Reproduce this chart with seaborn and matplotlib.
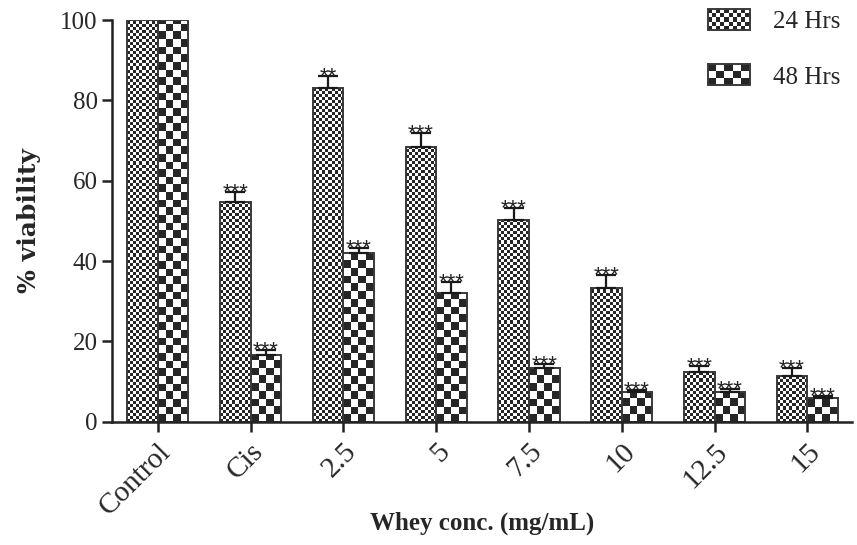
import numpy as np
import pandas as pd
import matplotlib
matplotlib.use("Agg")
import matplotlib.pyplot as plt
import seaborn as sns
from matplotlib.patches import Rectangle
from matplotlib.legend_handler import HandlerBase

# --- data ---
groups = ["Control", "Cis", "2.5", "5", "7.5", "10", "12.5", "15"]
via_24 = [100, 54.8, 83.0, 68.3, 50.3, 33.4, 12.5, 11.3]
err_24 = [0, 2.5, 3.1, 3.5, 3.0, 3.1, 1.5, 2.1]
via_48 = [100, 16.7, 42.1, 32.0, 13.5, 7.5, 7.5, 5.9]
err_48 = [0, 1.2, 1.3, 2.8, 0.8, 0.4, 0.6, 0.6]
sig_24 = ["", "***", "**", "***", "***", "***", "***", "***"]
sig_48 = ["", "***", "***", "***", "***", "***", "***", "***"]
series = ["24 Hrs", "48 Hrs"]

df = pd.DataFrame({
    "group": groups * 2,
    "viability": via_24 + via_48,
    "time": [series[0]] * len(groups) + [series[1]] * len(groups),
})

DARK = "#262626"
EDGE = "#3a3a3a"

sns.set_style("ticks")
plt.rcParams["font.family"] = ["Liberation Serif", "DejaVu Serif"]

fig = plt.figure(figsize=(8.57, 5.45), dpi=100)
ax = fig.add_axes([0.131, 0.226, 0.863, 0.737])

sns.barplot(data=df, x="group", y="viability", hue="time", order=groups,
            hue_order=series, width=0.66, errorbar=None,
            palette=["white", "white"], edgecolor=EDGE, linewidth=1.4,
            legend=False, ax=ax)

ax.set_ylim(0, 100)
ax.set_xlim(-0.49, 7.48)
fig.canvas.draw()

# pixel scale for the checkerboard textures
px_per_x = ax.transData.transform((1, 0))[0] - ax.transData.transform((0, 0))[0]
px_per_y = ax.transData.transform((0, 1))[1] - ax.transData.transform((0, 0))[1]
cell_px = [3.0, 7.6]


def checker(nx, ny):
    return (np.indices((ny, nx)).sum(axis=0) % 2).astype(float)


cmap = matplotlib.colors.ListedColormap([DARK, "white"])
bar_sets = list(ax.containers)
for k, cont in enumerate(bar_sets):
    errs = err_24 if k == 0 else err_48
    sigs = sig_24 if k == 0 else sig_48
    for i, bar in enumerate(cont.patches):
        x0, w, h = bar.get_x(), bar.get_width(), bar.get_height()
        nx = max(1, int(round(w * px_per_x / cell_px[k])))
        cw = w / nx
        ch = cw * px_per_x / px_per_y
        ny = int(np.ceil(h / ch)) + 1
        img = ax.imshow(checker(nx, ny), cmap=cmap, interpolation="nearest",
                        origin="lower", extent=(x0, x0 + w, 0, ny * ch),
                        aspect="auto", zorder=bar.get_zorder() - 0.1)
        img.set_clip_path(bar)
        bar.set_facecolor("none")
        if errs[i] > 0:
            xc = x0 + w / 2
            ax.errorbar(xc, h, yerr=[[0], [errs[i]]], fmt="none",
                        ecolor="#1a1a1a", elinewidth=1.6, capsize=7.5,
                        capthick=1.6, zorder=5)
        if sigs[i]:
            ax.annotate(sigs[i], (x0 + w / 2, h + errs[i]), xytext=(0, -4.5),
                        textcoords="offset points", ha="center", va="baseline",
                        fontsize=16, family="Liberation Sans", color="#222222")

ax.set_ylim(0, 100)
ax.set_xlim(-0.49, 7.48)
ax.set_yticks([0, 20, 40, 60, 80, 100])
ax.tick_params(axis="both", direction="out", length=7, width=1.8,
               color="#222222", labelsize=18)
ax.set_xticks(range(len(groups)))
ax.set_xticklabels(groups, rotation=45, ha="right", rotation_mode="anchor",
                   fontsize=21)
ax.tick_params(axis="x", pad=5)
for s in ["left", "bottom"]:
    ax.spines[s].set_linewidth(1.8)
    ax.spines[s].set_color("#222222")
sns.despine(ax=ax)

ax.set_xlabel("Whey conc. (mg/mL)", fontsize=18, fontweight="bold", labelpad=-6)
ax.set_ylabel("% viability", fontsize=18, fontweight="bold",
              family="DejaVu Serif", labelpad=14)


class CheckerHandler(HandlerBase):
    def __init__(self, nx):
        super().__init__()
        self.nx = nx

    def create_artists(self, legend, orig_handle, xdescent, ydescent, width,
                       height, fontsize, trans):
        arts = []
        cw = width / self.nx
        ny = max(1, int(round(height / cw)))
        ch = height / ny
        for i in range(self.nx):
            for j in range(ny):
                if (i + j) % 2 == 0:
                    arts.append(Rectangle((-xdescent + i * cw, -ydescent + j * ch),
                                          cw, ch, facecolor=DARK, edgecolor="none",
                                          transform=trans))
        arts.append(Rectangle((-xdescent, -ydescent), width, height,
                              facecolor="none", edgecolor=EDGE, linewidth=1.4,
                              transform=trans))
        return arts


h24 = Rectangle((0, 0), 1, 1)
h48 = Rectangle((0, 0), 1, 1)
fig.legend([h24, h48], series, loc="upper right",
           bbox_to_anchor=(840 / 857, 1 - 9 / 545), frameon=False, fontsize=18,
           handlelength=1.68, handleheight=0.92, handletextpad=0.92,
           labelspacing=1.25, borderpad=0, borderaxespad=0,
           handler_map={h24: CheckerHandler(10), h48: CheckerHandler(5)})

fig.savefig("out.png", dpi=100)
